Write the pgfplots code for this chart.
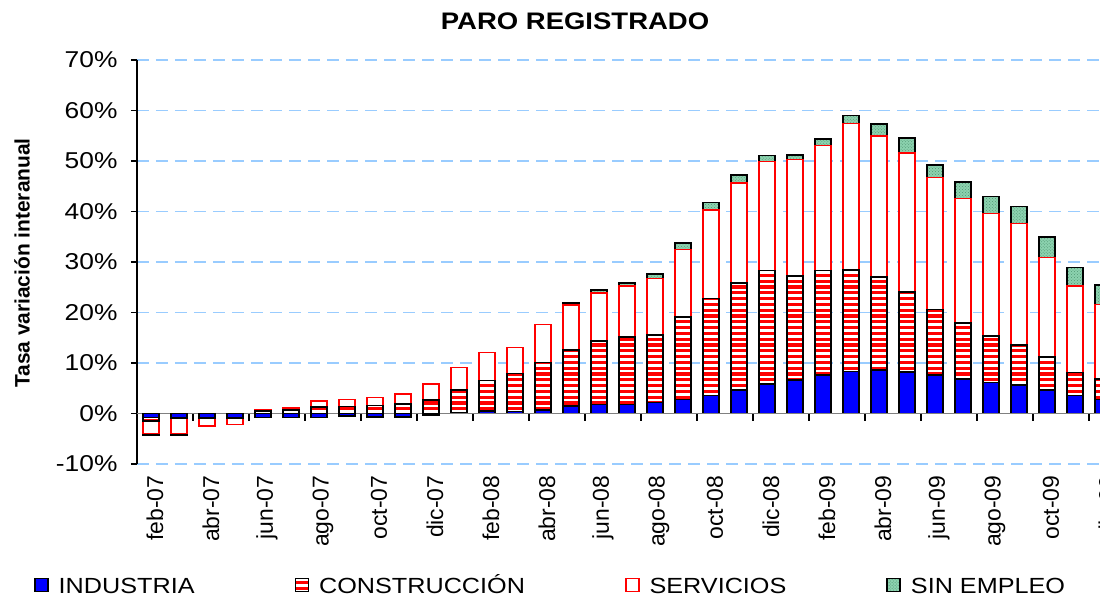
\documentclass[border=0pt]{standalone}
\usepackage{fontspec}
\setmainfont{Liberation Sans}[FakeStretch=1.15]
\newfontfamily\rotfont{Liberation Sans}
\usepackage{pgfplots}
\pgfplotsset{compat=1.18}
\usepackage{pgfplotstable}
\usetikzlibrary{patterns}
\pgfdeclarepatternformonly{redstripes}{\pgfpoint{-1bp}{0bp}}{\pgfpoint{21bp}{5.8bp}}{\pgfpoint{20bp}{5.8bp}}{\pgfpathrectangle{\pgfpoint{-1bp}{0bp}}{\pgfpoint{22bp}{3.1bp}}\pgfusepath{fill}}
\definecolor{sinemp}{RGB}{140,210,175}
\definecolor{sindot}{RGB}{80,150,115}
\definecolor{gridblue}{RGB}{153,204,255}
\definecolor{zerogray}{RGB}{128,128,128}

% positive parts (x = month index, 0 = feb-07); xs = position of the SIN EMPLEO bar (40 = not shown, value 0)
\pgfplotstableread{
x ind con ser sin xs
0 0 0 0 0 40
1 0 0 0 0 40
2 0 0 0 0 40
3 0 0 0 0 40
4 0 0.5 0.3 0 40
5 0 0.7 0.4 0 40
6 0 1.3 1.2 0 40
7 0 1.4 1.4 0 40
8 0 1.6 1.6 0 40
9 0 1.9 2.0 0 40
10 0 2.7 3.1 0 40
11 0.1 4.5 4.5 0 40
12 0.5 6.0 5.6 0 40
13 0.4 7.5 5.2 0 40
14 0.7 9.4 7.5 0 40
15 1.5 11.1 8.9 0.4 15
16 1.8 12.6 9.5 0.6 16
17 1.8 13.4 10.1 0.5 17
18 2.2 13.3 11.2 0.9 18
19 2.8 16.3 13.4 1.3 19
20 3.6 19.2 17.5 1.5 20
21 4.7 21.1 19.9 1.5 21
22 5.8 22.5 21.6 1.2 22
23 6.6 20.6 23.1 0.9 23
24 7.6 20.7 24.8 1.3 24
25 8.3 20.1 29.0 1.6 25
26 8.6 18.4 28.0 2.3 26
27 8.2 15.9 27.5 3.0 27
28 7.6 13.0 26.1 2.5 28
29 6.8 11.1 24.7 3.3 29
30 6.1 9.3 24.2 3.4 30
31 5.7 7.9 24.0 3.4 31
32 4.7 6.5 19.7 4.0 32
33 3.6 4.5 17.1 3.7 33
34 2.8 4.0 14.8 3.9 34
}\pos
% negative parts; xr, xs = positions of the SERVICIOS and SIN EMPLEO bars (40 = not shown, value 0)
\pgfplotstableread{
x ind con ser sin xr xs
0 -0.8 -0.7 -2.5 -0.3 0 0
1 -0.8 -0.2 -3.0 -0.3 1 1
2 -0.8 -0.1 -1.6 0 2 40
3 -0.8 -0.2 -1.2 0 3 40
4 -0.8 0 0 0 40 40
5 -0.8 0 0 0 40 40
6 -0.8 0 0 0 40 40
7 -0.5 0 0 0 40 40
8 -0.7 0 0 0 40 40
9 -0.7 0 0 0 40 40
10 -0.3 0 0 0 40 40
}\neg

\begin{document}
\begin{tikzpicture}
\begin{axis}[
  name=ax,
  scale only axis, width=980bp, height=404bp,
  xmin=-0.5, xmax=34.5, ymin=-10, ymax=70,
  ybar stacked, bar width=16.5bp,
  axis y line*=left, axis x line*=bottom,
  x axis line style={draw=none,-},
  y axis line style={black, line width=1.2bp, -},
  xtick={0,2,...,34},
  xticklabels={feb-07,abr-07,jun-07,ago-07,oct-07,dic-07,feb-08,abr-08,jun-08,ago-08,oct-08,dic-08,feb-09,abr-09,jun-09,ago-09,oct-09,dic-09},
  xtick style={draw=none},
  xticklabel style={rotate=90, anchor=east, font=\rotfont\fontsize{23}{27}\selectfont, yshift=-4bp, xshift=-2bp},
  ytick={-10,0,...,70},
  yticklabels={-10\%,0\%,10\%,20\%,30\%,40\%,50\%,60\%,70\%},
  ytick style={black, line width=1.2bp},
  tick align=outside, major tick length=6bp,
  yticklabel style={font=\fontsize{23}{27}\selectfont, xshift=-10bp},
  ymajorgrids,
  major grid style={draw=gridblue, dash pattern=on 12bp off 7bp, line width=1.3bp},
  title={PARO REGISTRADO},
  title style={at={(axis description cs:0.447,1.06)}, anchor=base, font=\bfseries\fontsize{24}{28}\selectfont},
  ylabel={Tasa variación interanual},
  ylabel style={at={(axis description cs:-0.1173,0.4975)}, anchor=center, font=\rotfont\bfseries\fontsize{21}{25}\selectfont},
  legend columns=4,
  legend style={at={(axis description cs:-0.1082,-0.2995)}, anchor=west, draw=none, fill=none,
    font=\fontsize{22}{26}\selectfont,
    /tikz/every odd column/.append style={column sep=8bp},
    /tikz/every even column/.append style={column sep=98bp}},
  legend image code/.code={\draw[#1] (0bp,-6.5bp) rectangle (13bp,6.5bp);},
]
\addplot[fill=blue, draw=black, line width=1.6bp] table[x=x,y=ind]{\pos};
\addplot[fill=white, draw=black, line width=1.6bp, postaction={pattern=redstripes, pattern color=red}] table[x=x,y=con]{\pos};
\addplot[fill=white, draw=red, line width=1.6bp] table[x=x,y=ser]{\pos};
\addplot[fill=sinemp, draw=black, line width=1.6bp, postaction={pattern=crosshatch dots, pattern color=sindot}] table[x=xs,y=sin]{\pos};
\legend{\vphantom{Ó}INDUSTRIA, \vphantom{Ó}CONSTRUCCIÓN, \vphantom{Ó}SERVICIOS, \vphantom{Ó}SIN EMPLEO}
\end{axis}
\begin{axis}[
  scale only axis, width=980bp, height=404bp,
  xmin=-0.5, xmax=34.5, ymin=-10, ymax=70,
  ybar stacked, bar width=16.5bp,
  axis x line=middle, axis y line=none,
  x axis line style={draw=zerogray, line width=1.6bp, -},
  xtick={1.5,3.5,...,33.5}, xticklabels={},
  xtick style={black, line width=1.2bp},
  tick align=outside, major tick length=7bp,
  ytick=\empty,
]
\addplot[fill=blue, draw=black, line width=1.6bp] table[x=x,y=ind]{\neg};
\addplot[fill=white, draw=black, line width=1.6bp, postaction={pattern=redstripes, pattern color=red}] table[x=x,y=con]{\neg};
\addplot[fill=white, draw=red, line width=1.6bp] table[x=xr,y=ser]{\neg};
\addplot[fill=sinemp, draw=black, line width=1.6bp, postaction={pattern=crosshatch dots, pattern color=sindot}] table[x=xs,y=sin]{\neg};
\end{axis}
\pgfresetboundingbox
\path[use as bounding box] ([xshift=-137bp,yshift=-132bp]ax.south west) rectangle ([xshift=963bp,yshift=464bp]ax.south west);
\end{tikzpicture}
\end{document}
